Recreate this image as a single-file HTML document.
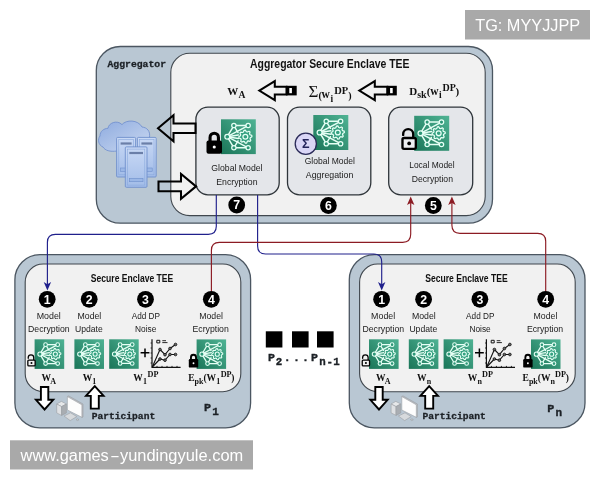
<!DOCTYPE html>
<html lang="en"><head><meta charset="utf-8"><title>Federated learning secure enclave diagram</title>
<style>html,body{margin:0;padding:0;background:#fff;}svg{display:block;will-change:transform;}</style></head><body>
<svg width="600" height="480" viewBox="0 0 600 480">
<linearGradient id="gg" x1="0" y1="1" x2="1" y2="0"><stop offset="0" stop-color="#1a7558"/><stop offset="1" stop-color="#4fb394"/></linearGradient>
<linearGradient id="cl" x1="0" y1="0" x2="1" y2="1"><stop offset="0" stop-color="#8eabdf"/><stop offset="1" stop-color="#cbd9f1"/></linearGradient>
<linearGradient id="sv" x1="0" y1="0" x2="0" y2="1"><stop offset="0" stop-color="#c9d9f5"/><stop offset="1" stop-color="#a2bce8"/></linearGradient>
<rect width="600" height="480" fill="#fff"/>
<rect x="465" y="10" width="125" height="29.5" fill="#a9a9a9"/>
<text x="475.2" y="30.9" font-family='"Liberation Sans", sans-serif' font-size="16" font-weight="normal" text-anchor="start" fill="#fff"  textLength="105" lengthAdjust="spacingAndGlyphs">TG: MYYJJPP</text>
<rect x="96.3" y="46.5" width="396.2" height="176.7" rx="24" fill="#b9c7d3" stroke="#4b5661" stroke-width="1.3"/>
<rect x="170.8" y="53.2" width="314.4" height="162.4" rx="19" fill="#f1f1f1" stroke="#40474e" stroke-width="1.1"/>
<text x="107.5" y="66.5" font-family='"Liberation Mono", monospace' font-size="9.6" font-weight="bold" text-anchor="start" fill="#1c2126" stroke="#1c2126" stroke-width="0.3" textLength="58.5" lengthAdjust="spacingAndGlyphs">Aggregator</text>
<text x="250" y="67.5" font-family='"Liberation Sans", sans-serif' font-size="13" font-weight="bold" text-anchor="start" fill="#111"  textLength="159.5" lengthAdjust="spacingAndGlyphs">Aggregator Secure Enclave TEE</text>
<text font-family='"Liberation Serif", serif' fill="#111"><tspan x="227.3" y="95" font-size="11" font-weight="bold">W</tspan><tspan x="238.6" y="98.3" font-size="9.6" font-weight="bold">A</tspan></text>
<path d="M259.3,90.6 L274.8,81.1 V86.69999999999999 H286.5 V94.5 H274.8 V100.1 Z" fill="none" stroke="#000" stroke-width="2.05" stroke-linejoin="miter"/><rect x="286" y="85.8" width="10.699999999999989" height="9.6" fill="#000"/><rect x="289.3" y="88" width="2.6" height="5.2" fill="#fff"/>
<text font-family='"Liberation Serif", serif' fill="#111"><tspan x="308.5" y="97" font-size="17" font-weight="normal">Σ</tspan><tspan x="318.6" y="98.5" font-size="10" font-weight="bold">(</tspan><tspan x="321.6" y="98.3" font-size="11.5" font-weight="bold">w</tspan><tspan x="330.4" y="101.5" font-size="9.5" font-weight="bold">i</tspan><tspan x="334.2" y="93.7" font-size="10.5" font-weight="bold">DP</tspan><tspan x="348.2" y="98.5" font-size="10" font-weight="bold">)</tspan></text>
<path d="M359.3,90.6 L374.8,81.1 V86.69999999999999 H387.3 V94.5 H374.8 V100.1 Z" fill="none" stroke="#000" stroke-width="2.05" stroke-linejoin="miter"/><rect x="386.8" y="85.8" width="10.0" height="9.6" fill="#000"/><rect x="390.1" y="88" width="2.6" height="5.2" fill="#fff"/>
<text font-family='"Liberation Serif", serif' fill="#111"><tspan x="409.2" y="95" font-size="11" font-weight="bold">D</tspan><tspan x="417.2" y="98.3" font-size="10" font-weight="bold">sk</tspan><tspan x="426.8" y="95" font-size="11" font-weight="bold">(</tspan><tspan x="430.3" y="95" font-size="11.5" font-weight="bold">w</tspan><tspan x="439" y="98.3" font-size="9.5" font-weight="bold">i</tspan><tspan x="442.5" y="91.2" font-size="10" font-weight="bold">DP</tspan><tspan x="455.6" y="95" font-size="11" font-weight="bold">)</tspan></text>
<rect x="195.9" y="107.2" width="83.3" height="87.6" rx="12" fill="#e4e6ea" stroke="#2f353a" stroke-width="1.3"/>
<rect x="287.5" y="107.2" width="83.3" height="87.6" rx="12" fill="#e4e6ea" stroke="#2f353a" stroke-width="1.3"/>
<rect x="388.7" y="107.2" width="84.0" height="87.6" rx="12" fill="#e4e6ea" stroke="#2f353a" stroke-width="1.3"/>
<g transform="translate(221,119.3) scale(0.3480)">
<rect x="0" y="0" width="100" height="100" fill="url(#gg)"/>
<g fill="none" stroke="#e6fff5" stroke-width="4.2" stroke-linecap="round">
<line x1="18" y1="50" x2="37" y2="18"/>
<line x1="18" y1="50" x2="37" y2="82"/>
<line x1="37" y1="18" x2="78" y2="18"/>
<line x1="37" y1="82" x2="78" y2="82"/>
<line x1="18" y1="50" x2="78" y2="18"/>
<line x1="18" y1="50" x2="78" y2="82"/>
<line x1="18" y1="50" x2="50" y2="45"/>
<line x1="18" y1="50" x2="50" y2="55"/>
<line x1="37" y1="18" x2="49" y2="38"/>
<line x1="37" y1="82" x2="49" y2="62"/>
</g>
<polygon points="88.4,46.3 88.8,50.0 84.3,52.8 83.5,55.6 85.6,60.4 83.3,63.3 78.1,62.1 75.6,63.5 73.7,68.4 70.0,68.8 67.2,64.3 64.4,63.5 59.6,65.6 56.7,63.3 57.9,58.1 56.5,55.6 51.6,53.7 51.2,50.0 55.7,47.2 56.5,44.4 54.4,39.6 56.7,36.7 61.9,37.9 64.4,36.5 66.3,31.6 70.0,31.2 72.8,35.7 75.6,36.5 80.4,34.4 83.3,36.7 82.1,41.9 83.5,44.4" fill="#35a181" stroke="#e6fff5" stroke-width="3.6" stroke-linejoin="round"/>
<circle cx="70" cy="50" r="7" fill="none" stroke="#e6fff5" stroke-width="3.6"/>
<circle cx="18" cy="50" r="7" fill="#2b9676" stroke="#e6fff5" stroke-width="3.6"/>
<circle cx="37" cy="18" r="6.2" fill="#2b9676" stroke="#e6fff5" stroke-width="3.6"/>
<circle cx="78" cy="18" r="6.2" fill="#2b9676" stroke="#e6fff5" stroke-width="3.6"/>
<circle cx="37" cy="82" r="6.2" fill="#2b9676" stroke="#e6fff5" stroke-width="3.6"/>
<circle cx="78" cy="82" r="6.2" fill="#2b9676" stroke="#e6fff5" stroke-width="3.6"/>
</g>
<path d="M210.06,141.4 V137.39 A4.19,4.19 0 0 1 218.44,137.39 V141.4" fill="none" stroke="#000" stroke-width="3.10"/>
<rect x="206.5" y="140.4" width="15.5" height="13.3" rx="2.02" fill="#000"/>
<circle cx="214.25" cy="147.05" r="1.55" fill="#fff"/>
<text x="211.3" y="171.3" font-family='"Liberation Sans", sans-serif' font-size="9.2" font-weight="normal" text-anchor="start" fill="#202020"  textLength="51.2" lengthAdjust="spacingAndGlyphs">Global Model</text>
<text x="216.3" y="185" font-family='"Liberation Sans", sans-serif' font-size="9.2" font-weight="normal" text-anchor="start" fill="#202020"  textLength="41.2" lengthAdjust="spacingAndGlyphs">Encryption</text>
<g transform="translate(313.3,115) scale(0.3500)">
<rect x="0" y="0" width="100" height="100" fill="url(#gg)"/>
<g fill="none" stroke="#e6fff5" stroke-width="4.2" stroke-linecap="round">
<line x1="18" y1="50" x2="37" y2="18"/>
<line x1="18" y1="50" x2="37" y2="82"/>
<line x1="37" y1="18" x2="78" y2="18"/>
<line x1="37" y1="82" x2="78" y2="82"/>
<line x1="18" y1="50" x2="78" y2="18"/>
<line x1="18" y1="50" x2="78" y2="82"/>
<line x1="18" y1="50" x2="50" y2="45"/>
<line x1="18" y1="50" x2="50" y2="55"/>
<line x1="37" y1="18" x2="49" y2="38"/>
<line x1="37" y1="82" x2="49" y2="62"/>
</g>
<polygon points="88.4,46.3 88.8,50.0 84.3,52.8 83.5,55.6 85.6,60.4 83.3,63.3 78.1,62.1 75.6,63.5 73.7,68.4 70.0,68.8 67.2,64.3 64.4,63.5 59.6,65.6 56.7,63.3 57.9,58.1 56.5,55.6 51.6,53.7 51.2,50.0 55.7,47.2 56.5,44.4 54.4,39.6 56.7,36.7 61.9,37.9 64.4,36.5 66.3,31.6 70.0,31.2 72.8,35.7 75.6,36.5 80.4,34.4 83.3,36.7 82.1,41.9 83.5,44.4" fill="#35a181" stroke="#e6fff5" stroke-width="3.6" stroke-linejoin="round"/>
<circle cx="70" cy="50" r="7" fill="none" stroke="#e6fff5" stroke-width="3.6"/>
<circle cx="18" cy="50" r="7" fill="#2b9676" stroke="#e6fff5" stroke-width="3.6"/>
<circle cx="37" cy="18" r="6.2" fill="#2b9676" stroke="#e6fff5" stroke-width="3.6"/>
<circle cx="78" cy="18" r="6.2" fill="#2b9676" stroke="#e6fff5" stroke-width="3.6"/>
<circle cx="37" cy="82" r="6.2" fill="#2b9676" stroke="#e6fff5" stroke-width="3.6"/>
<circle cx="78" cy="82" r="6.2" fill="#2b9676" stroke="#e6fff5" stroke-width="3.6"/>
</g>
<circle cx="305.8" cy="143.8" r="10.6" fill="#dad6f6" stroke="#2a2a58" stroke-width="1.3"/>
<text x="305.8" y="148.3" font-family='"Liberation Sans", sans-serif' font-size="12.5" font-weight="bold" text-anchor="middle" fill="#23235a" >Σ</text>
<text x="304.7" y="164.2" font-family='"Liberation Sans", sans-serif' font-size="9.2" font-weight="normal" text-anchor="start" fill="#202020"  textLength="50.3" lengthAdjust="spacingAndGlyphs">Global Model</text>
<text x="305.8" y="177.6" font-family='"Liberation Sans", sans-serif' font-size="9.2" font-weight="normal" text-anchor="start" fill="#202020"  textLength="47.5" lengthAdjust="spacingAndGlyphs">Aggregation</text>
<g transform="translate(414.2,115.8) scale(0.3500)">
<rect x="0" y="0" width="100" height="100" fill="url(#gg)"/>
<g fill="none" stroke="#e6fff5" stroke-width="4.2" stroke-linecap="round">
<line x1="18" y1="50" x2="37" y2="18"/>
<line x1="18" y1="50" x2="37" y2="82"/>
<line x1="37" y1="18" x2="78" y2="18"/>
<line x1="37" y1="82" x2="78" y2="82"/>
<line x1="18" y1="50" x2="78" y2="18"/>
<line x1="18" y1="50" x2="78" y2="82"/>
<line x1="18" y1="50" x2="50" y2="45"/>
<line x1="18" y1="50" x2="50" y2="55"/>
<line x1="37" y1="18" x2="49" y2="38"/>
<line x1="37" y1="82" x2="49" y2="62"/>
</g>
<polygon points="88.4,46.3 88.8,50.0 84.3,52.8 83.5,55.6 85.6,60.4 83.3,63.3 78.1,62.1 75.6,63.5 73.7,68.4 70.0,68.8 67.2,64.3 64.4,63.5 59.6,65.6 56.7,63.3 57.9,58.1 56.5,55.6 51.6,53.7 51.2,50.0 55.7,47.2 56.5,44.4 54.4,39.6 56.7,36.7 61.9,37.9 64.4,36.5 66.3,31.6 70.0,31.2 72.8,35.7 75.6,36.5 80.4,34.4 83.3,36.7 82.1,41.9 83.5,44.4" fill="#35a181" stroke="#e6fff5" stroke-width="3.6" stroke-linejoin="round"/>
<circle cx="70" cy="50" r="7" fill="none" stroke="#e6fff5" stroke-width="3.6"/>
<circle cx="18" cy="50" r="7" fill="#2b9676" stroke="#e6fff5" stroke-width="3.6"/>
<circle cx="37" cy="18" r="6.2" fill="#2b9676" stroke="#e6fff5" stroke-width="3.6"/>
<circle cx="78" cy="18" r="6.2" fill="#2b9676" stroke="#e6fff5" stroke-width="3.6"/>
<circle cx="37" cy="82" r="6.2" fill="#2b9676" stroke="#e6fff5" stroke-width="3.6"/>
<circle cx="78" cy="82" r="6.2" fill="#2b9676" stroke="#e6fff5" stroke-width="3.6"/>
</g>
<path d="M403.18,134.90 V134.22 A5.02,5.02 0 0 1 413.23,134.22 V137.8" fill="none" stroke="#000" stroke-width="2.35" stroke-linecap="round"/>
<rect x="402.48" y="137.98" width="13.34" height="10.95" rx="1.57" fill="#eceef1" stroke="#000" stroke-width="2.35"/>
<circle cx="409.15000000000003" cy="143.45" r="1.88" fill="#000"/>
<text x="409.2" y="168.3" font-family='"Liberation Sans", sans-serif' font-size="9.2" font-weight="normal" text-anchor="start" fill="#202020"  textLength="45.5" lengthAdjust="spacingAndGlyphs">Local Model</text>
<text x="411.7" y="182" font-family='"Liberation Sans", sans-serif' font-size="9.2" font-weight="normal" text-anchor="start" fill="#202020"  textLength="41.3" lengthAdjust="spacingAndGlyphs">Decryption</text>
<circle cx="236.7" cy="205" r="8.4" fill="#000"/><text x="236.7" y="209.4" font-family='"Liberation Sans", sans-serif' font-weight="bold" font-size="12.3" fill="#fff" text-anchor="middle">7</text>
<circle cx="328.4" cy="205.5" r="8.4" fill="#000"/><text x="328.4" y="209.9" font-family='"Liberation Sans", sans-serif' font-weight="bold" font-size="12.3" fill="#fff" text-anchor="middle">6</text>
<circle cx="433.3" cy="205.5" r="8.4" fill="#000"/><text x="433.3" y="209.9" font-family='"Liberation Sans", sans-serif' font-weight="bold" font-size="12.3" fill="#fff" text-anchor="middle">5</text>
<path d="M158,128.3 L173.5,115.30000000000001 V123.55000000000001 H195.5 V133.05 H173.5 V141.3 Z" fill="none" stroke="#000" stroke-width="2.05" stroke-linejoin="miter"/>
<path d="M196,186.4 L181,173.9 V181.5 H158.5 V191.3 H181 V198.9 Z" fill="none" stroke="#000" stroke-width="2.05" stroke-linejoin="miter"/>
<g>
<path d="M117,151 C110,152 105,150.5 103,147 C98,145 97.5,139 100,136 C100,131 104,128.5 108,128.3 C108.5,123 117,119.5 122,124.6 C126,119.5 138,119.5 142,127 C147,127.5 150.5,131 149.5,137.5 L149.5,151 Z" fill="url(#cl)" stroke="#7492cf" stroke-width="0.9"/>
<rect x="116.6" y="137.4" width="19" height="39.6" rx="1" fill="url(#sv)" stroke="#6f90cc" stroke-width="0.9"/><rect x="118.8" y="139.6" width="14.6" height="35.2" fill="none" stroke="#89a8dc" stroke-width="0.6"/><rect x="120.6" y="142.4" width="11" height="2.2" fill="#6b7fa8" stroke="none"/><rect x="120.6" y="168.0" width="11" height="3.4" fill="#9bb7e6" stroke="#6f90cc" stroke-width="0.6"/>
<rect x="137.4" y="137.4" width="18.8" height="39.6" rx="1" fill="url(#sv)" stroke="#6f90cc" stroke-width="0.9"/><rect x="139.6" y="139.6" width="14.4" height="35.2" fill="none" stroke="#89a8dc" stroke-width="0.6"/><rect x="141.4" y="142.4" width="10.8" height="2.2" fill="#6b7fa8" stroke="none"/><rect x="141.4" y="168.0" width="10.8" height="3.4" fill="#9bb7e6" stroke="#6f90cc" stroke-width="0.6"/>
<rect x="125.3" y="146.9" width="21.7" height="40.4" rx="1" fill="url(#sv)" stroke="#6f90cc" stroke-width="0.9"/><rect x="127.5" y="149.1" width="17.299999999999997" height="36.0" fill="none" stroke="#89a8dc" stroke-width="0.6"/><rect x="129.3" y="151.9" width="13.7" height="2.2" fill="#6b7fa8" stroke="none"/><rect x="129.3" y="178.3" width="13.7" height="3.4" fill="#9bb7e6" stroke="#6f90cc" stroke-width="0.6"/>
</g>
<g transform="translate(0,0)">
<rect x="14.9" y="254.7" width="235.7" height="173.2" rx="25" fill="#b9c7d3" stroke="#4b5661" stroke-width="1.3"/>
<rect x="25.2" y="264" width="215.6" height="127.7" rx="18" fill="#f1f1f1" stroke="#40474e" stroke-width="1.1"/>
</g>
<g transform="translate(334.4,0)">
<rect x="14.9" y="254.7" width="235.7" height="173.2" rx="25" fill="#b9c7d3" stroke="#4b5661" stroke-width="1.3"/>
<rect x="25.2" y="264" width="215.6" height="127.7" rx="18" fill="#f1f1f1" stroke="#40474e" stroke-width="1.1"/>
</g>
<path d="M216.3,195 V226.3 Q216.3,234.3 208.3,234.3 H55.4 Q47.4,234.3 47.4,242.3 V285" fill="none" stroke="#20208c" stroke-width="1.15"/>
<path d="M47.4,290.5 L43.699999999999996,282.0 L47.4,284.2 L51.1,282.0 Z" fill="#20208c"/>
<path d="M257.6,195 V246 Q257.6,254 265.6,254 H373.7 Q381.7,254 381.7,262 V285" fill="none" stroke="#20208c" stroke-width="1.15"/>
<path d="M381.7,290.5 L378.0,282.0 L381.7,284.2 L385.4,282.0 Z" fill="#20208c"/>
<path d="M211.4,291.5 V250.3 Q211.4,242.3 219.4,242.3 H402.7 Q410.7,242.3 410.7,234.3 V202" fill="none" stroke="#8c1b23" stroke-width="1.15"/>
<path d="M410.7,196.6 L407.0,205.1 L410.7,202.9 L414.4,205.1 Z" fill="#8c1b23"/>
<path d="M545.7,291.5 V241.3 Q545.7,233.3 537.7,233.3 H459.9 Q451.9,233.3 451.9,225.3 V202" fill="none" stroke="#8c1b23" stroke-width="1.15"/>
<path d="M451.9,196.6 L448.2,205.1 L451.9,202.9 L455.59999999999997,205.1 Z" fill="#8c1b23"/>
<g transform="translate(0,0)">
<text x="90.8" y="281.8" font-family='"Liberation Sans", sans-serif' font-size="10.4" font-weight="bold" text-anchor="start" fill="#111"  textLength="82.5" lengthAdjust="spacingAndGlyphs">Secure Enclave TEE</text>
<circle cx="47.2" cy="299.3" r="8.4" fill="#000"/><text x="47.2" y="303.7" font-family='"Liberation Sans", sans-serif' font-weight="bold" font-size="12.3" fill="#fff" text-anchor="middle">1</text>
<circle cx="89.2" cy="299.3" r="8.4" fill="#000"/><text x="89.2" y="303.7" font-family='"Liberation Sans", sans-serif' font-weight="bold" font-size="12.3" fill="#fff" text-anchor="middle">2</text>
<circle cx="145.5" cy="299.3" r="8.4" fill="#000"/><text x="145.5" y="303.7" font-family='"Liberation Sans", sans-serif' font-weight="bold" font-size="12.3" fill="#fff" text-anchor="middle">3</text>
<circle cx="211.3" cy="299.3" r="8.4" fill="#000"/><text x="211.3" y="303.7" font-family='"Liberation Sans", sans-serif' font-weight="bold" font-size="12.3" fill="#fff" text-anchor="middle">4</text>
<text x="36.7" y="318.9" font-family='"Liberation Sans", sans-serif' font-size="9.2" font-weight="normal" text-anchor="start" fill="#202020"  textLength="24.1" lengthAdjust="spacingAndGlyphs">Model</text>
<text x="28" y="332.4" font-family='"Liberation Sans", sans-serif' font-size="9.2" font-weight="normal" text-anchor="start" fill="#202020"  textLength="41.7" lengthAdjust="spacingAndGlyphs">Decryption</text>
<text x="77.5" y="318.9" font-family='"Liberation Sans", sans-serif' font-size="9.2" font-weight="normal" text-anchor="start" fill="#202020"  textLength="23.8" lengthAdjust="spacingAndGlyphs">Model</text>
<text x="75" y="332.4" font-family='"Liberation Sans", sans-serif' font-size="9.2" font-weight="normal" text-anchor="start" fill="#202020"  textLength="27.8" lengthAdjust="spacingAndGlyphs">Update</text>
<text x="131.7" y="318.9" font-family='"Liberation Sans", sans-serif' font-size="9.2" font-weight="normal" text-anchor="start" fill="#202020"  textLength="28.3" lengthAdjust="spacingAndGlyphs">Add DP</text>
<text x="135" y="332.4" font-family='"Liberation Sans", sans-serif' font-size="9.2" font-weight="normal" text-anchor="start" fill="#202020"  textLength="21.3" lengthAdjust="spacingAndGlyphs">Noise</text>
<text x="199.2" y="318.9" font-family='"Liberation Sans", sans-serif' font-size="9.2" font-weight="normal" text-anchor="start" fill="#202020"  textLength="23.8" lengthAdjust="spacingAndGlyphs">Model</text>
<text x="192.5" y="332.4" font-family='"Liberation Sans", sans-serif' font-size="9.2" font-weight="normal" text-anchor="start" fill="#202020"  textLength="36.3" lengthAdjust="spacingAndGlyphs">Ecryption</text>
<g transform="translate(34.6,339.3) scale(0.2960)">
<rect x="0" y="0" width="100" height="100" fill="url(#gg)"/>
<g fill="none" stroke="#e6fff5" stroke-width="4.2" stroke-linecap="round">
<line x1="18" y1="50" x2="37" y2="18"/>
<line x1="18" y1="50" x2="37" y2="82"/>
<line x1="37" y1="18" x2="78" y2="18"/>
<line x1="37" y1="82" x2="78" y2="82"/>
<line x1="18" y1="50" x2="78" y2="18"/>
<line x1="18" y1="50" x2="78" y2="82"/>
<line x1="18" y1="50" x2="50" y2="45"/>
<line x1="18" y1="50" x2="50" y2="55"/>
<line x1="37" y1="18" x2="49" y2="38"/>
<line x1="37" y1="82" x2="49" y2="62"/>
</g>
<polygon points="88.4,46.3 88.8,50.0 84.3,52.8 83.5,55.6 85.6,60.4 83.3,63.3 78.1,62.1 75.6,63.5 73.7,68.4 70.0,68.8 67.2,64.3 64.4,63.5 59.6,65.6 56.7,63.3 57.9,58.1 56.5,55.6 51.6,53.7 51.2,50.0 55.7,47.2 56.5,44.4 54.4,39.6 56.7,36.7 61.9,37.9 64.4,36.5 66.3,31.6 70.0,31.2 72.8,35.7 75.6,36.5 80.4,34.4 83.3,36.7 82.1,41.9 83.5,44.4" fill="#35a181" stroke="#e6fff5" stroke-width="3.6" stroke-linejoin="round"/>
<circle cx="70" cy="50" r="7" fill="none" stroke="#e6fff5" stroke-width="3.6"/>
<circle cx="18" cy="50" r="7" fill="#2b9676" stroke="#e6fff5" stroke-width="3.6"/>
<circle cx="37" cy="18" r="6.2" fill="#2b9676" stroke="#e6fff5" stroke-width="3.6"/>
<circle cx="78" cy="18" r="6.2" fill="#2b9676" stroke="#e6fff5" stroke-width="3.6"/>
<circle cx="37" cy="82" r="6.2" fill="#2b9676" stroke="#e6fff5" stroke-width="3.6"/>
<circle cx="78" cy="82" r="6.2" fill="#2b9676" stroke="#e6fff5" stroke-width="3.6"/>
</g>
<g transform="translate(74.4,339.3) scale(0.2960)">
<rect x="0" y="0" width="100" height="100" fill="url(#gg)"/>
<g fill="none" stroke="#e6fff5" stroke-width="4.2" stroke-linecap="round">
<line x1="18" y1="50" x2="37" y2="18"/>
<line x1="18" y1="50" x2="37" y2="82"/>
<line x1="37" y1="18" x2="78" y2="18"/>
<line x1="37" y1="82" x2="78" y2="82"/>
<line x1="18" y1="50" x2="78" y2="18"/>
<line x1="18" y1="50" x2="78" y2="82"/>
<line x1="18" y1="50" x2="50" y2="45"/>
<line x1="18" y1="50" x2="50" y2="55"/>
<line x1="37" y1="18" x2="49" y2="38"/>
<line x1="37" y1="82" x2="49" y2="62"/>
</g>
<polygon points="88.4,46.3 88.8,50.0 84.3,52.8 83.5,55.6 85.6,60.4 83.3,63.3 78.1,62.1 75.6,63.5 73.7,68.4 70.0,68.8 67.2,64.3 64.4,63.5 59.6,65.6 56.7,63.3 57.9,58.1 56.5,55.6 51.6,53.7 51.2,50.0 55.7,47.2 56.5,44.4 54.4,39.6 56.7,36.7 61.9,37.9 64.4,36.5 66.3,31.6 70.0,31.2 72.8,35.7 75.6,36.5 80.4,34.4 83.3,36.7 82.1,41.9 83.5,44.4" fill="#35a181" stroke="#e6fff5" stroke-width="3.6" stroke-linejoin="round"/>
<circle cx="70" cy="50" r="7" fill="none" stroke="#e6fff5" stroke-width="3.6"/>
<circle cx="18" cy="50" r="7" fill="#2b9676" stroke="#e6fff5" stroke-width="3.6"/>
<circle cx="37" cy="18" r="6.2" fill="#2b9676" stroke="#e6fff5" stroke-width="3.6"/>
<circle cx="78" cy="18" r="6.2" fill="#2b9676" stroke="#e6fff5" stroke-width="3.6"/>
<circle cx="37" cy="82" r="6.2" fill="#2b9676" stroke="#e6fff5" stroke-width="3.6"/>
<circle cx="78" cy="82" r="6.2" fill="#2b9676" stroke="#e6fff5" stroke-width="3.6"/>
</g>
<g transform="translate(109.2,339.3) scale(0.2950)">
<rect x="0" y="0" width="100" height="100" fill="url(#gg)"/>
<g fill="none" stroke="#e6fff5" stroke-width="4.2" stroke-linecap="round">
<line x1="18" y1="50" x2="37" y2="18"/>
<line x1="18" y1="50" x2="37" y2="82"/>
<line x1="37" y1="18" x2="78" y2="18"/>
<line x1="37" y1="82" x2="78" y2="82"/>
<line x1="18" y1="50" x2="78" y2="18"/>
<line x1="18" y1="50" x2="78" y2="82"/>
<line x1="18" y1="50" x2="50" y2="45"/>
<line x1="18" y1="50" x2="50" y2="55"/>
<line x1="37" y1="18" x2="49" y2="38"/>
<line x1="37" y1="82" x2="49" y2="62"/>
</g>
<polygon points="88.4,46.3 88.8,50.0 84.3,52.8 83.5,55.6 85.6,60.4 83.3,63.3 78.1,62.1 75.6,63.5 73.7,68.4 70.0,68.8 67.2,64.3 64.4,63.5 59.6,65.6 56.7,63.3 57.9,58.1 56.5,55.6 51.6,53.7 51.2,50.0 55.7,47.2 56.5,44.4 54.4,39.6 56.7,36.7 61.9,37.9 64.4,36.5 66.3,31.6 70.0,31.2 72.8,35.7 75.6,36.5 80.4,34.4 83.3,36.7 82.1,41.9 83.5,44.4" fill="#35a181" stroke="#e6fff5" stroke-width="3.6" stroke-linejoin="round"/>
<circle cx="70" cy="50" r="7" fill="none" stroke="#e6fff5" stroke-width="3.6"/>
<circle cx="18" cy="50" r="7" fill="#2b9676" stroke="#e6fff5" stroke-width="3.6"/>
<circle cx="37" cy="18" r="6.2" fill="#2b9676" stroke="#e6fff5" stroke-width="3.6"/>
<circle cx="78" cy="18" r="6.2" fill="#2b9676" stroke="#e6fff5" stroke-width="3.6"/>
<circle cx="37" cy="82" r="6.2" fill="#2b9676" stroke="#e6fff5" stroke-width="3.6"/>
<circle cx="78" cy="82" r="6.2" fill="#2b9676" stroke="#e6fff5" stroke-width="3.6"/>
</g>
<g transform="translate(196.6,339.4) scale(0.2950)">
<rect x="0" y="0" width="100" height="100" fill="url(#gg)"/>
<g fill="none" stroke="#e6fff5" stroke-width="4.2" stroke-linecap="round">
<line x1="18" y1="50" x2="37" y2="18"/>
<line x1="18" y1="50" x2="37" y2="82"/>
<line x1="37" y1="18" x2="78" y2="18"/>
<line x1="37" y1="82" x2="78" y2="82"/>
<line x1="18" y1="50" x2="78" y2="18"/>
<line x1="18" y1="50" x2="78" y2="82"/>
<line x1="18" y1="50" x2="50" y2="45"/>
<line x1="18" y1="50" x2="50" y2="55"/>
<line x1="37" y1="18" x2="49" y2="38"/>
<line x1="37" y1="82" x2="49" y2="62"/>
</g>
<polygon points="88.4,46.3 88.8,50.0 84.3,52.8 83.5,55.6 85.6,60.4 83.3,63.3 78.1,62.1 75.6,63.5 73.7,68.4 70.0,68.8 67.2,64.3 64.4,63.5 59.6,65.6 56.7,63.3 57.9,58.1 56.5,55.6 51.6,53.7 51.2,50.0 55.7,47.2 56.5,44.4 54.4,39.6 56.7,36.7 61.9,37.9 64.4,36.5 66.3,31.6 70.0,31.2 72.8,35.7 75.6,36.5 80.4,34.4 83.3,36.7 82.1,41.9 83.5,44.4" fill="#35a181" stroke="#e6fff5" stroke-width="3.6" stroke-linejoin="round"/>
<circle cx="70" cy="50" r="7" fill="none" stroke="#e6fff5" stroke-width="3.6"/>
<circle cx="18" cy="50" r="7" fill="#2b9676" stroke="#e6fff5" stroke-width="3.6"/>
<circle cx="37" cy="18" r="6.2" fill="#2b9676" stroke="#e6fff5" stroke-width="3.6"/>
<circle cx="78" cy="18" r="6.2" fill="#2b9676" stroke="#e6fff5" stroke-width="3.6"/>
<circle cx="37" cy="82" r="6.2" fill="#2b9676" stroke="#e6fff5" stroke-width="3.6"/>
<circle cx="78" cy="82" r="6.2" fill="#2b9676" stroke="#e6fff5" stroke-width="3.6"/>
</g>
<path d="M28.23,358.25 V357.55 A2.75,2.75 0 0 1 33.74,357.55 V360.4" fill="none" stroke="#000" stroke-width="1.29" stroke-linecap="round"/>
<rect x="27.84" y="360.04" width="7.31" height="5.91" rx="0.86" fill="#f1f1f1" stroke="#000" stroke-width="1.29"/>
<circle cx="31.5" cy="363.00" r="1.03" fill="#000"/>
<path d="M190.96,360 V357.24 A2.54,2.54 0 0 1 196.04,357.24 V360" fill="none" stroke="#000" stroke-width="1.88"/>
<rect x="188.8" y="359" width="9.4" height="8.6" rx="1.22" fill="#000"/>
<circle cx="193.5" cy="363.3" r="0.94" fill="#fff"/>
<path d="M140.6,352.8 H149.4 M145,348.4 V357.2" stroke="#000" stroke-width="1.5" fill="none"/>
<g fill="none" stroke="#111" stroke-width="1.2" stroke-linejoin="round">
<path d="M152,339.3 V367.4 H180.6"/>
<path d="M152.3,367 L160,349.5 L165,354.7 L170,348.5 L175.5,344.5" stroke-width="1.1"/>
<path d="M152.3,367 L160,359 L165,360.2 L170,354.5 L175.5,354.5" stroke-width="1.1"/>
<rect x="156.8" y="340.3" width="3" height="2.6" stroke-width="1"/><path d="M162.3,340.7 H166 M162.3,342.6 H167.5" stroke-width="0.9"/>
</g>
<circle cx="160" cy="349.5" r="1.35" fill="#666" stroke="#111" stroke-width="0.8"/>
<circle cx="165" cy="354.7" r="1.35" fill="#666" stroke="#111" stroke-width="0.8"/>
<circle cx="170" cy="348.5" r="1.35" fill="#666" stroke="#111" stroke-width="0.8"/>
<circle cx="175.5" cy="344.5" r="1.35" fill="#666" stroke="#111" stroke-width="0.8"/>
<circle cx="160" cy="359" r="1.35" fill="#666" stroke="#111" stroke-width="0.8"/>
<circle cx="165" cy="360.2" r="1.35" fill="#666" stroke="#111" stroke-width="0.8"/>
<circle cx="170" cy="354.5" r="1.35" fill="#666" stroke="#111" stroke-width="0.8"/>
<circle cx="175.5" cy="354.5" r="1.35" fill="#666" stroke="#111" stroke-width="0.8"/>
<path d="M157,367.4 V365.9" stroke="#111" stroke-width="0.9"/>
<path d="M162,367.4 V365.9" stroke="#111" stroke-width="0.9"/>
<path d="M167,367.4 V365.9" stroke="#111" stroke-width="0.9"/>
<path d="M172,367.4 V365.9" stroke="#111" stroke-width="0.9"/>
<path d="M177,367.4 V365.9" stroke="#111" stroke-width="0.9"/>
<path d="M152,343 H150.6" stroke="#111" stroke-width="0.8"/>
<path d="M152,348 H150.6" stroke="#111" stroke-width="0.8"/>
<path d="M152,353 H150.6" stroke="#111" stroke-width="0.8"/>
<path d="M152,358 H150.6" stroke="#111" stroke-width="0.8"/>
<path d="M152,363 H150.6" stroke="#111" stroke-width="0.8"/>
<text font-family='"Liberation Serif", serif' fill="#111"><tspan x="41.5" y="380.5" font-size="9.5" font-weight="bold">W</tspan><tspan x="50.3" y="383.5" font-size="8" font-weight="bold">A</tspan></text>
<text font-family='"Liberation Serif", serif' fill="#111"><tspan x="82.7" y="380.5" font-size="9.5" font-weight="bold">W</tspan><tspan x="92.3" y="383.5" font-size="8" font-weight="bold">1</tspan></text>
<text font-family='"Liberation Serif", serif' fill="#111"><tspan x="133.3" y="380.5" font-size="9.5" font-weight="bold">W</tspan><tspan x="143" y="383.5" font-size="8" font-weight="bold">1</tspan><tspan x="147.6" y="376.9" font-size="8.2" font-weight="bold">DP</tspan></text>
<text font-family='"Liberation Serif", serif' fill="#111"><tspan x="188.2" y="380.5" font-size="9.5" font-weight="bold">E</tspan><tspan x="194.5" y="383.5" font-size="8" font-weight="bold">pk</tspan><tspan x="203.4" y="380.5" font-size="9.5" font-weight="bold">(</tspan><tspan x="206.6" y="380.5" font-size="9.5" font-weight="bold">W</tspan><tspan x="216.2" y="383.5" font-size="8" font-weight="bold">1</tspan><tspan x="220.7" y="376.9" font-size="8.2" font-weight="bold">DP</tspan><tspan x="231.3" y="380.5" font-size="9.5" font-weight="bold">)</tspan></text>
<path d="M44.6,409.5 L35.95,399.8 H40.9 V387 H48.300000000000004 V399.8 H53.25 Z" fill="#fff" stroke="#000" stroke-width="1.9" stroke-linejoin="miter"/>
<path d="M94.8,386.2 L86.05,395.9 H90.8 V408.6 H98.8 V395.9 H103.55 Z" fill="#fff" stroke="#000" stroke-width="1.9" stroke-linejoin="miter"/>
<g stroke="#9a9ea3" stroke-width="0.6" stroke-linejoin="round">
<path d="M56.7,404 L61.4,401.4 L66.4,404 L61.6,406.6 Z" fill="#e6e8ea"/>
<path d="M56.7,404 L61.6,406.6 V415.4 L56.7,412.9 Z" fill="#dfe1e4"/>
<path d="M61.6,406.6 L66.4,404 V412.9 L61.6,415.4 Z" fill="#a9adb2"/>
<path d="M64,416 L70.6,412.8 L76.8,416.6 L70.2,420.6 Z" fill="#d7dadd"/>
<path d="M76,419.6 l1.6,-0.8 l1.4,0.9 l-1.6,0.9 Z" fill="#c9ccd0"/>
<path d="M67.4,396.4 L68.6,395.9 L83,404 V417 L81.9,417.5 Z" fill="#b9bdc2"/>
<path d="M67.4,396.6 L81.9,404.8 V417.3 L67.4,410 Z" fill="#fdfdfd"/>
</g>
<text x="91.7" y="419.4" font-family='"Liberation Mono", monospace' font-size="9.6" font-weight="bold" text-anchor="start" fill="#1c2126" stroke="#1c2126" stroke-width="0.3" textLength="63.5" lengthAdjust="spacingAndGlyphs">Participant</text>
<text font-family='"Liberation Mono", monospace' font-weight="bold" fill="#1c2126" stroke="#1c2126" stroke-width="0.35"><tspan x="204.10000000000002" y="411.3" font-size="11.8">P</tspan><tspan x="212.2" y="415.3" font-size="11">1</tspan></text>
</g>
<g transform="translate(334.4,0)">
<text x="90.8" y="281.8" font-family='"Liberation Sans", sans-serif' font-size="10.4" font-weight="bold" text-anchor="start" fill="#111"  textLength="82.5" lengthAdjust="spacingAndGlyphs">Secure Enclave TEE</text>
<circle cx="47.2" cy="299.3" r="8.4" fill="#000"/><text x="47.2" y="303.7" font-family='"Liberation Sans", sans-serif' font-weight="bold" font-size="12.3" fill="#fff" text-anchor="middle">1</text>
<circle cx="89.2" cy="299.3" r="8.4" fill="#000"/><text x="89.2" y="303.7" font-family='"Liberation Sans", sans-serif' font-weight="bold" font-size="12.3" fill="#fff" text-anchor="middle">2</text>
<circle cx="145.5" cy="299.3" r="8.4" fill="#000"/><text x="145.5" y="303.7" font-family='"Liberation Sans", sans-serif' font-weight="bold" font-size="12.3" fill="#fff" text-anchor="middle">3</text>
<circle cx="211.3" cy="299.3" r="8.4" fill="#000"/><text x="211.3" y="303.7" font-family='"Liberation Sans", sans-serif' font-weight="bold" font-size="12.3" fill="#fff" text-anchor="middle">4</text>
<text x="36.7" y="318.9" font-family='"Liberation Sans", sans-serif' font-size="9.2" font-weight="normal" text-anchor="start" fill="#202020"  textLength="24.1" lengthAdjust="spacingAndGlyphs">Model</text>
<text x="28" y="332.4" font-family='"Liberation Sans", sans-serif' font-size="9.2" font-weight="normal" text-anchor="start" fill="#202020"  textLength="41.7" lengthAdjust="spacingAndGlyphs">Decryption</text>
<text x="77.5" y="318.9" font-family='"Liberation Sans", sans-serif' font-size="9.2" font-weight="normal" text-anchor="start" fill="#202020"  textLength="23.8" lengthAdjust="spacingAndGlyphs">Model</text>
<text x="75" y="332.4" font-family='"Liberation Sans", sans-serif' font-size="9.2" font-weight="normal" text-anchor="start" fill="#202020"  textLength="27.8" lengthAdjust="spacingAndGlyphs">Update</text>
<text x="131.7" y="318.9" font-family='"Liberation Sans", sans-serif' font-size="9.2" font-weight="normal" text-anchor="start" fill="#202020"  textLength="28.3" lengthAdjust="spacingAndGlyphs">Add DP</text>
<text x="135" y="332.4" font-family='"Liberation Sans", sans-serif' font-size="9.2" font-weight="normal" text-anchor="start" fill="#202020"  textLength="21.3" lengthAdjust="spacingAndGlyphs">Noise</text>
<text x="199.2" y="318.9" font-family='"Liberation Sans", sans-serif' font-size="9.2" font-weight="normal" text-anchor="start" fill="#202020"  textLength="23.8" lengthAdjust="spacingAndGlyphs">Model</text>
<text x="192.5" y="332.4" font-family='"Liberation Sans", sans-serif' font-size="9.2" font-weight="normal" text-anchor="start" fill="#202020"  textLength="36.3" lengthAdjust="spacingAndGlyphs">Ecryption</text>
<g transform="translate(34.6,339.3) scale(0.2960)">
<rect x="0" y="0" width="100" height="100" fill="url(#gg)"/>
<g fill="none" stroke="#e6fff5" stroke-width="4.2" stroke-linecap="round">
<line x1="18" y1="50" x2="37" y2="18"/>
<line x1="18" y1="50" x2="37" y2="82"/>
<line x1="37" y1="18" x2="78" y2="18"/>
<line x1="37" y1="82" x2="78" y2="82"/>
<line x1="18" y1="50" x2="78" y2="18"/>
<line x1="18" y1="50" x2="78" y2="82"/>
<line x1="18" y1="50" x2="50" y2="45"/>
<line x1="18" y1="50" x2="50" y2="55"/>
<line x1="37" y1="18" x2="49" y2="38"/>
<line x1="37" y1="82" x2="49" y2="62"/>
</g>
<polygon points="88.4,46.3 88.8,50.0 84.3,52.8 83.5,55.6 85.6,60.4 83.3,63.3 78.1,62.1 75.6,63.5 73.7,68.4 70.0,68.8 67.2,64.3 64.4,63.5 59.6,65.6 56.7,63.3 57.9,58.1 56.5,55.6 51.6,53.7 51.2,50.0 55.7,47.2 56.5,44.4 54.4,39.6 56.7,36.7 61.9,37.9 64.4,36.5 66.3,31.6 70.0,31.2 72.8,35.7 75.6,36.5 80.4,34.4 83.3,36.7 82.1,41.9 83.5,44.4" fill="#35a181" stroke="#e6fff5" stroke-width="3.6" stroke-linejoin="round"/>
<circle cx="70" cy="50" r="7" fill="none" stroke="#e6fff5" stroke-width="3.6"/>
<circle cx="18" cy="50" r="7" fill="#2b9676" stroke="#e6fff5" stroke-width="3.6"/>
<circle cx="37" cy="18" r="6.2" fill="#2b9676" stroke="#e6fff5" stroke-width="3.6"/>
<circle cx="78" cy="18" r="6.2" fill="#2b9676" stroke="#e6fff5" stroke-width="3.6"/>
<circle cx="37" cy="82" r="6.2" fill="#2b9676" stroke="#e6fff5" stroke-width="3.6"/>
<circle cx="78" cy="82" r="6.2" fill="#2b9676" stroke="#e6fff5" stroke-width="3.6"/>
</g>
<g transform="translate(74.4,339.3) scale(0.2960)">
<rect x="0" y="0" width="100" height="100" fill="url(#gg)"/>
<g fill="none" stroke="#e6fff5" stroke-width="4.2" stroke-linecap="round">
<line x1="18" y1="50" x2="37" y2="18"/>
<line x1="18" y1="50" x2="37" y2="82"/>
<line x1="37" y1="18" x2="78" y2="18"/>
<line x1="37" y1="82" x2="78" y2="82"/>
<line x1="18" y1="50" x2="78" y2="18"/>
<line x1="18" y1="50" x2="78" y2="82"/>
<line x1="18" y1="50" x2="50" y2="45"/>
<line x1="18" y1="50" x2="50" y2="55"/>
<line x1="37" y1="18" x2="49" y2="38"/>
<line x1="37" y1="82" x2="49" y2="62"/>
</g>
<polygon points="88.4,46.3 88.8,50.0 84.3,52.8 83.5,55.6 85.6,60.4 83.3,63.3 78.1,62.1 75.6,63.5 73.7,68.4 70.0,68.8 67.2,64.3 64.4,63.5 59.6,65.6 56.7,63.3 57.9,58.1 56.5,55.6 51.6,53.7 51.2,50.0 55.7,47.2 56.5,44.4 54.4,39.6 56.7,36.7 61.9,37.9 64.4,36.5 66.3,31.6 70.0,31.2 72.8,35.7 75.6,36.5 80.4,34.4 83.3,36.7 82.1,41.9 83.5,44.4" fill="#35a181" stroke="#e6fff5" stroke-width="3.6" stroke-linejoin="round"/>
<circle cx="70" cy="50" r="7" fill="none" stroke="#e6fff5" stroke-width="3.6"/>
<circle cx="18" cy="50" r="7" fill="#2b9676" stroke="#e6fff5" stroke-width="3.6"/>
<circle cx="37" cy="18" r="6.2" fill="#2b9676" stroke="#e6fff5" stroke-width="3.6"/>
<circle cx="78" cy="18" r="6.2" fill="#2b9676" stroke="#e6fff5" stroke-width="3.6"/>
<circle cx="37" cy="82" r="6.2" fill="#2b9676" stroke="#e6fff5" stroke-width="3.6"/>
<circle cx="78" cy="82" r="6.2" fill="#2b9676" stroke="#e6fff5" stroke-width="3.6"/>
</g>
<g transform="translate(109.2,339.3) scale(0.2950)">
<rect x="0" y="0" width="100" height="100" fill="url(#gg)"/>
<g fill="none" stroke="#e6fff5" stroke-width="4.2" stroke-linecap="round">
<line x1="18" y1="50" x2="37" y2="18"/>
<line x1="18" y1="50" x2="37" y2="82"/>
<line x1="37" y1="18" x2="78" y2="18"/>
<line x1="37" y1="82" x2="78" y2="82"/>
<line x1="18" y1="50" x2="78" y2="18"/>
<line x1="18" y1="50" x2="78" y2="82"/>
<line x1="18" y1="50" x2="50" y2="45"/>
<line x1="18" y1="50" x2="50" y2="55"/>
<line x1="37" y1="18" x2="49" y2="38"/>
<line x1="37" y1="82" x2="49" y2="62"/>
</g>
<polygon points="88.4,46.3 88.8,50.0 84.3,52.8 83.5,55.6 85.6,60.4 83.3,63.3 78.1,62.1 75.6,63.5 73.7,68.4 70.0,68.8 67.2,64.3 64.4,63.5 59.6,65.6 56.7,63.3 57.9,58.1 56.5,55.6 51.6,53.7 51.2,50.0 55.7,47.2 56.5,44.4 54.4,39.6 56.7,36.7 61.9,37.9 64.4,36.5 66.3,31.6 70.0,31.2 72.8,35.7 75.6,36.5 80.4,34.4 83.3,36.7 82.1,41.9 83.5,44.4" fill="#35a181" stroke="#e6fff5" stroke-width="3.6" stroke-linejoin="round"/>
<circle cx="70" cy="50" r="7" fill="none" stroke="#e6fff5" stroke-width="3.6"/>
<circle cx="18" cy="50" r="7" fill="#2b9676" stroke="#e6fff5" stroke-width="3.6"/>
<circle cx="37" cy="18" r="6.2" fill="#2b9676" stroke="#e6fff5" stroke-width="3.6"/>
<circle cx="78" cy="18" r="6.2" fill="#2b9676" stroke="#e6fff5" stroke-width="3.6"/>
<circle cx="37" cy="82" r="6.2" fill="#2b9676" stroke="#e6fff5" stroke-width="3.6"/>
<circle cx="78" cy="82" r="6.2" fill="#2b9676" stroke="#e6fff5" stroke-width="3.6"/>
</g>
<g transform="translate(196.6,339.4) scale(0.2950)">
<rect x="0" y="0" width="100" height="100" fill="url(#gg)"/>
<g fill="none" stroke="#e6fff5" stroke-width="4.2" stroke-linecap="round">
<line x1="18" y1="50" x2="37" y2="18"/>
<line x1="18" y1="50" x2="37" y2="82"/>
<line x1="37" y1="18" x2="78" y2="18"/>
<line x1="37" y1="82" x2="78" y2="82"/>
<line x1="18" y1="50" x2="78" y2="18"/>
<line x1="18" y1="50" x2="78" y2="82"/>
<line x1="18" y1="50" x2="50" y2="45"/>
<line x1="18" y1="50" x2="50" y2="55"/>
<line x1="37" y1="18" x2="49" y2="38"/>
<line x1="37" y1="82" x2="49" y2="62"/>
</g>
<polygon points="88.4,46.3 88.8,50.0 84.3,52.8 83.5,55.6 85.6,60.4 83.3,63.3 78.1,62.1 75.6,63.5 73.7,68.4 70.0,68.8 67.2,64.3 64.4,63.5 59.6,65.6 56.7,63.3 57.9,58.1 56.5,55.6 51.6,53.7 51.2,50.0 55.7,47.2 56.5,44.4 54.4,39.6 56.7,36.7 61.9,37.9 64.4,36.5 66.3,31.6 70.0,31.2 72.8,35.7 75.6,36.5 80.4,34.4 83.3,36.7 82.1,41.9 83.5,44.4" fill="#35a181" stroke="#e6fff5" stroke-width="3.6" stroke-linejoin="round"/>
<circle cx="70" cy="50" r="7" fill="none" stroke="#e6fff5" stroke-width="3.6"/>
<circle cx="18" cy="50" r="7" fill="#2b9676" stroke="#e6fff5" stroke-width="3.6"/>
<circle cx="37" cy="18" r="6.2" fill="#2b9676" stroke="#e6fff5" stroke-width="3.6"/>
<circle cx="78" cy="18" r="6.2" fill="#2b9676" stroke="#e6fff5" stroke-width="3.6"/>
<circle cx="37" cy="82" r="6.2" fill="#2b9676" stroke="#e6fff5" stroke-width="3.6"/>
<circle cx="78" cy="82" r="6.2" fill="#2b9676" stroke="#e6fff5" stroke-width="3.6"/>
</g>
<path d="M28.23,358.25 V357.55 A2.75,2.75 0 0 1 33.74,357.55 V360.4" fill="none" stroke="#000" stroke-width="1.29" stroke-linecap="round"/>
<rect x="27.84" y="360.04" width="7.31" height="5.91" rx="0.86" fill="#f1f1f1" stroke="#000" stroke-width="1.29"/>
<circle cx="31.5" cy="363.00" r="1.03" fill="#000"/>
<path d="M190.96,360 V357.24 A2.54,2.54 0 0 1 196.04,357.24 V360" fill="none" stroke="#000" stroke-width="1.88"/>
<rect x="188.8" y="359" width="9.4" height="8.6" rx="1.22" fill="#000"/>
<circle cx="193.5" cy="363.3" r="0.94" fill="#fff"/>
<path d="M140.6,352.8 H149.4 M145,348.4 V357.2" stroke="#000" stroke-width="1.5" fill="none"/>
<g fill="none" stroke="#111" stroke-width="1.2" stroke-linejoin="round">
<path d="M152,339.3 V367.4 H180.6"/>
<path d="M152.3,367 L160,349.5 L165,354.7 L170,348.5 L175.5,344.5" stroke-width="1.1"/>
<path d="M152.3,367 L160,359 L165,360.2 L170,354.5 L175.5,354.5" stroke-width="1.1"/>
<rect x="156.8" y="340.3" width="3" height="2.6" stroke-width="1"/><path d="M162.3,340.7 H166 M162.3,342.6 H167.5" stroke-width="0.9"/>
</g>
<circle cx="160" cy="349.5" r="1.35" fill="#666" stroke="#111" stroke-width="0.8"/>
<circle cx="165" cy="354.7" r="1.35" fill="#666" stroke="#111" stroke-width="0.8"/>
<circle cx="170" cy="348.5" r="1.35" fill="#666" stroke="#111" stroke-width="0.8"/>
<circle cx="175.5" cy="344.5" r="1.35" fill="#666" stroke="#111" stroke-width="0.8"/>
<circle cx="160" cy="359" r="1.35" fill="#666" stroke="#111" stroke-width="0.8"/>
<circle cx="165" cy="360.2" r="1.35" fill="#666" stroke="#111" stroke-width="0.8"/>
<circle cx="170" cy="354.5" r="1.35" fill="#666" stroke="#111" stroke-width="0.8"/>
<circle cx="175.5" cy="354.5" r="1.35" fill="#666" stroke="#111" stroke-width="0.8"/>
<path d="M157,367.4 V365.9" stroke="#111" stroke-width="0.9"/>
<path d="M162,367.4 V365.9" stroke="#111" stroke-width="0.9"/>
<path d="M167,367.4 V365.9" stroke="#111" stroke-width="0.9"/>
<path d="M172,367.4 V365.9" stroke="#111" stroke-width="0.9"/>
<path d="M177,367.4 V365.9" stroke="#111" stroke-width="0.9"/>
<path d="M152,343 H150.6" stroke="#111" stroke-width="0.8"/>
<path d="M152,348 H150.6" stroke="#111" stroke-width="0.8"/>
<path d="M152,353 H150.6" stroke="#111" stroke-width="0.8"/>
<path d="M152,358 H150.6" stroke="#111" stroke-width="0.8"/>
<path d="M152,363 H150.6" stroke="#111" stroke-width="0.8"/>
<text font-family='"Liberation Serif", serif' fill="#111"><tspan x="41.5" y="380.5" font-size="9.5" font-weight="bold">W</tspan><tspan x="50.3" y="383.5" font-size="8" font-weight="bold">A</tspan></text>
<text font-family='"Liberation Serif", serif' fill="#111"><tspan x="82.7" y="380.5" font-size="9.5" font-weight="bold">W</tspan><tspan x="92.3" y="383.5" font-size="8" font-weight="bold">n</tspan></text>
<text font-family='"Liberation Serif", serif' fill="#111"><tspan x="133.3" y="380.5" font-size="9.5" font-weight="bold">W</tspan><tspan x="143" y="383.5" font-size="8" font-weight="bold">n</tspan><tspan x="147.6" y="376.9" font-size="8.2" font-weight="bold">DP</tspan></text>
<text font-family='"Liberation Serif", serif' fill="#111"><tspan x="188.2" y="380.5" font-size="9.5" font-weight="bold">E</tspan><tspan x="194.5" y="383.5" font-size="8" font-weight="bold">pk</tspan><tspan x="203.4" y="380.5" font-size="9.5" font-weight="bold">(</tspan><tspan x="206.6" y="380.5" font-size="9.5" font-weight="bold">W</tspan><tspan x="216.2" y="383.5" font-size="8" font-weight="bold">n</tspan><tspan x="220.7" y="376.9" font-size="8.2" font-weight="bold">DP</tspan><tspan x="231.3" y="380.5" font-size="9.5" font-weight="bold">)</tspan></text>
<path d="M44.6,409.5 L35.95,399.8 H40.9 V387 H48.300000000000004 V399.8 H53.25 Z" fill="#fff" stroke="#000" stroke-width="1.9" stroke-linejoin="miter"/>
<path d="M94.8,386.2 L86.05,395.9 H90.8 V408.6 H98.8 V395.9 H103.55 Z" fill="#fff" stroke="#000" stroke-width="1.9" stroke-linejoin="miter"/>
<g stroke="#9a9ea3" stroke-width="0.6" stroke-linejoin="round">
<path d="M56.7,404 L61.4,401.4 L66.4,404 L61.6,406.6 Z" fill="#e6e8ea"/>
<path d="M56.7,404 L61.6,406.6 V415.4 L56.7,412.9 Z" fill="#dfe1e4"/>
<path d="M61.6,406.6 L66.4,404 V412.9 L61.6,415.4 Z" fill="#a9adb2"/>
<path d="M64,416 L70.6,412.8 L76.8,416.6 L70.2,420.6 Z" fill="#d7dadd"/>
<path d="M76,419.6 l1.6,-0.8 l1.4,0.9 l-1.6,0.9 Z" fill="#c9ccd0"/>
<path d="M67.4,396.4 L68.6,395.9 L83,404 V417 L81.9,417.5 Z" fill="#b9bdc2"/>
<path d="M67.4,396.6 L81.9,404.8 V417.3 L67.4,410 Z" fill="#fdfdfd"/>
</g>
<text x="88" y="419.4" font-family='"Liberation Mono", monospace' font-size="9.6" font-weight="bold" text-anchor="start" fill="#1c2126" stroke="#1c2126" stroke-width="0.3" textLength="63.5" lengthAdjust="spacingAndGlyphs">Participant</text>
<text font-family='"Liberation Mono", monospace' font-weight="bold" fill="#1c2126" stroke="#1c2126" stroke-width="0.35"><tspan x="212.9" y="412.3" font-size="11.8">P</tspan><tspan x="221.0" y="416.3" font-size="11">n</tspan></text>
</g>
<rect x="265.8" y="331.3" width="16.6" height="16.2" fill="#000"/>
<rect x="292" y="331.3" width="16.6" height="16.2" fill="#000"/>
<rect x="317" y="331.3" width="16.6" height="16.2" fill="#000"/>
<text font-family='"Liberation Mono", monospace' font-weight="bold" fill="#1c2126" stroke="#1c2126" stroke-width="0.35" font-size="11.6"><tspan x="268.1" y="360.9">P</tspan><tspan x="275.7" y="365.1" font-size="10.8">2</tspan><tspan x="283.8 292.9 302.1 310.9" y="360.9">...P</tspan><tspan x="319.2 326.6 333.2" y="365.1" font-size="10.8">n-1</tspan></text>
<rect x="10" y="440.3" width="243" height="29.2" fill="#a9a9a9"/>
<g><text x="20.6" y="460.6" font-family='"Liberation Sans", sans-serif' font-size="16" fill="#fff" lengthAdjust="spacingAndGlyphs" textLength="88.2">www.games</text><text transform="translate(109.9 461) scale(1.85 0.9)" font-family='"Liberation Sans", sans-serif' font-size="16" fill="#fff">-</text><text x="120" y="460.6" font-family='"Liberation Sans", sans-serif' font-size="16" fill="#fff" lengthAdjust="spacingAndGlyphs" textLength="123.2">yundingyule.com</text></g>
</svg></body></html>
